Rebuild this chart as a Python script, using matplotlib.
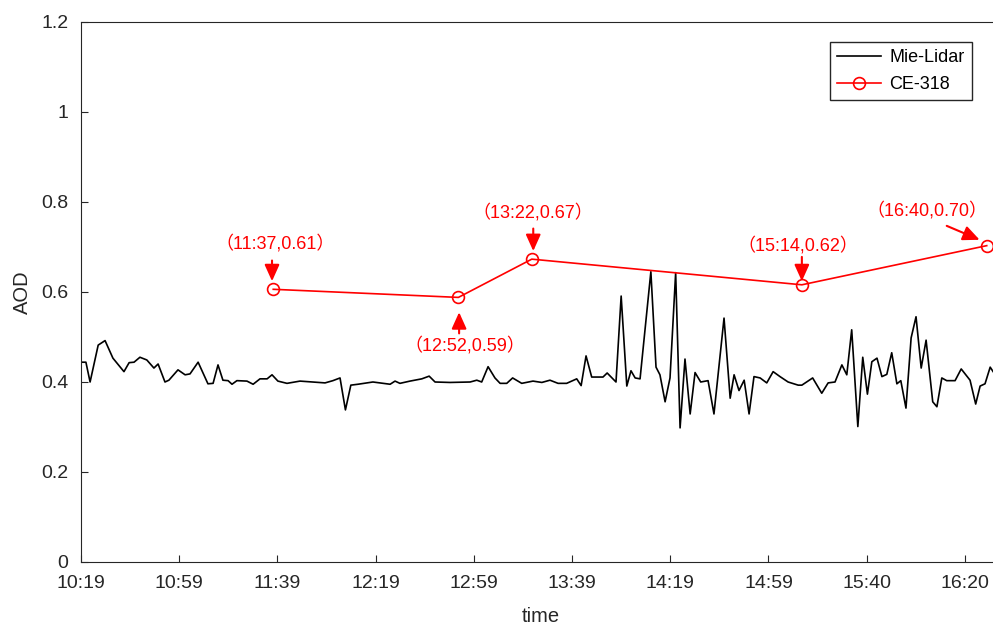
import matplotlib
matplotlib.use("Agg")
import matplotlib.pyplot as plt

# Mie-Lidar : minutes apres 10:19, AOD
lidar_t = [0, 2.0, 3.7, 7.0, 9.8, 13.0, 17.5, 19.6, 21.6, 24.0, 26.8, 29.7, 31.4,
           34.2, 35.8, 39.5, 42.4, 44.4, 47.7, 51.7, 53.8, 55.8, 57.8, 59.9, 61.5,
           63.5, 67.6, 70.1, 72.9, 75.8, 77.8, 80.2, 83.9, 89.2, 94.5, 99.4, 102.6,
           105.5, 107.7, 109.9, 112.8, 118.9, 125.9, 127.9, 129.9, 134.0, 138.8,
           141.8, 144.2, 150.3, 158.5, 161.2, 163.2, 165.8, 168.6, 170.7, 173.4,
           175.8, 179.5, 184.1, 187.7, 191.0, 194.3, 197.8, 201.9, 203.7, 205.7,
           208.0, 212.6, 214.3, 217.9, 220.0, 222.3, 224.0, 225.7, 227.7, 232.1,
           234.2, 235.8, 237.9, 239.9, 242.2, 244.0, 246.0, 248.1, 250.1, 252.4,
           255.4, 257.8, 261.9, 264.4, 266.0, 268.0, 270.1, 272.1, 274.1, 276.6,
           279.3, 281.9, 284.7, 288.0, 292.1, 293.6, 298.0, 301.7, 304.3, 307.1,
           309.9, 311.9, 313.9, 316.4, 318.4, 320.3, 322.1, 324.2, 326.2, 328.2,
           330.2, 332.3, 333.9, 336.0, 338.1, 340.1, 342.2, 344.2, 346.9, 348.6,
           350.6, 352.6, 356.0, 358.5, 362.1, 364.4, 366.2, 368.2, 370.3, 371.5]
lidar_aod = [0.444, 0.444, 0.400, 0.482, 0.492, 0.453, 0.423, 0.443, 0.444, 0.455,
             0.449, 0.431, 0.440, 0.400, 0.404, 0.427, 0.416, 0.418, 0.444, 0.396,
             0.397, 0.438, 0.404, 0.403, 0.395, 0.403, 0.402, 0.395, 0.407, 0.407,
             0.416, 0.402, 0.397, 0.402, 0.400, 0.398, 0.403, 0.409, 0.338, 0.393,
             0.395, 0.400, 0.395, 0.402, 0.397, 0.402, 0.407, 0.413, 0.400, 0.399,
             0.400, 0.404, 0.400, 0.434, 0.409, 0.397, 0.397, 0.409, 0.397, 0.402,
             0.399, 0.404, 0.397, 0.397, 0.407, 0.392, 0.458, 0.411, 0.411, 0.420,
             0.400, 0.591, 0.391, 0.425, 0.409, 0.407, 0.645, 0.433, 0.416, 0.356,
             0.409, 0.643, 0.298, 0.451, 0.329, 0.421, 0.400, 0.403, 0.329, 0.542,
             0.364, 0.416, 0.381, 0.404, 0.329, 0.412, 0.409, 0.398, 0.423, 0.412,
             0.400, 0.393, 0.393, 0.409, 0.375, 0.398, 0.400, 0.438, 0.416, 0.516,
             0.301, 0.455, 0.373, 0.445, 0.453, 0.412, 0.417, 0.465, 0.396, 0.403,
             0.342, 0.498, 0.545, 0.431, 0.493, 0.356, 0.345, 0.409, 0.403, 0.403,
             0.429, 0.404, 0.351, 0.391, 0.396, 0.433, 0.423]

# CE-318
ce_t = [78.3, 153.7, 183.6, 293.6, 368.9]
ce_aod = [0.606, 0.588, 0.673, 0.616, 0.703]
ce_labels = ["（11:37,0.61）", "（12:52,0.59）", "（13:22,0.67）",
             "（15:14,0.62）", "（16:40,0.70）"]

xtick_pos = [0, 40, 80, 120, 160, 200, 240, 280, 320, 360]
xtick_labels = ["10:19", "10:59", "11:39", "12:19", "12:59", "13:39",
                "14:19", "14:59", "15:40", "16:20"]

plt.rcParams['font.family'] = ['Liberation Sans', 'Noto Sans CJK SC', 'DejaVu Sans']

fig = plt.figure(figsize=(9.93, 6.28), dpi=100)
ax = fig.add_axes([81 / 993, 66 / 628, 919 / 993, 540 / 628])

ax.plot(lidar_t, lidar_aod, color="black", lw=1.2, label="Mie-Lidar")
ax.plot(ce_t, ce_aod, color="red", lw=1.2, marker="o", markersize=8.5,
        markerfacecolor="none", markeredgewidth=1.2, label="CE-318")

# position des textes et des fleches (x en minutes, y en AOD)
txt_pos = [(79.0, 0.708), (156.4, 0.482), (184.1, 0.776), (292.0, 0.704), (344.5, 0.782)]
fleches = [((77.8, 0.670), (77.8, 0.624)),
           ((154.0, 0.508), (154.0, 0.555)),
           ((184.2, 0.741), (184.2, 0.691)),
           ((293.6, 0.678), (293.6, 0.624)),
           ((352.6, 0.747), (366.0, 0.716))]
for lab, (tx, ty), (queue, pointe) in zip(ce_labels, txt_pos, fleches):
    ax.text(tx, ty, lab, color="red", fontsize=13, ha="center", va="center")
    ax.annotate("", xy=pointe, xytext=queue,
                arrowprops=dict(arrowstyle="-|>,head_length=1.0,head_width=0.45",
                                color="red", lw=1.5, shrinkA=0, shrinkB=0))

ax.set_xlim(0, 374.3)
ax.set_ylim(0, 1.2)
ax.set_xticks(xtick_pos)
ax.set_xticklabels(xtick_labels)
ax.set_yticks([0, 0.2, 0.4, 0.6, 0.8, 1.0, 1.2])
ax.set_yticklabels(["0", "0.2", "0.4", "0.6", "0.8", "1", "1.2"])
ax.tick_params(direction="in", labelsize=14, colors="#262626", length=5)
ax.tick_params(axis="x", pad=9)
ax.tick_params(axis="y", pad=9)
ax.set_xlabel("time", fontsize=14.5, color="#262626", labelpad=11)
ax.set_ylabel("AOD", fontsize=14.5, color="#262626", labelpad=7)
for s in ax.spines.values():
    s.set_color("#262626")

leg = ax.legend(loc="upper left", fontsize=13, fancybox=False,
                edgecolor="#262626", framealpha=1, handlelength=2.4,
                borderaxespad=0, labelspacing=0.55, handletextpad=0.5)
leg.set_bbox_to_anchor((830 / 993, 1 - 42 / 628), transform=fig.transFigure)

fig.savefig("out.png", dpi=100)
